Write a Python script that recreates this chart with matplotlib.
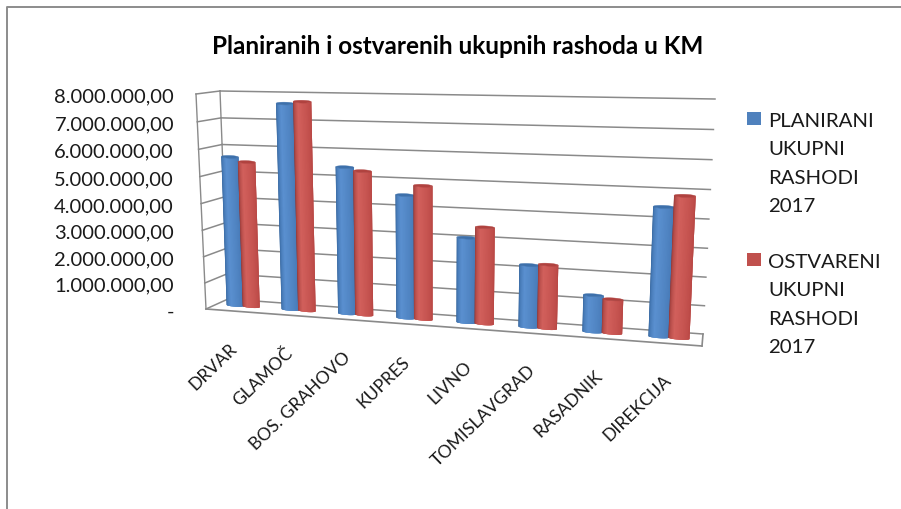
import matplotlib
matplotlib.use('Agg')

import numpy as np
import matplotlib.pyplot as plt
from matplotlib.patches import Polygon, Rectangle
from matplotlib.transforms import Transform

plt.rcParams['font.family'] = ['Lato', 'DejaVu Sans']

title = "Planiranih i ostvarenih ukupnih rashoda u KM"
categories = ["DRVAR", "GLAMOČ", "BOS. GRAHOVO", "KUPRES", "LIVNO",
              "TOMISLAVGRAD", "RASADNIK", "DIREKCIJA"]
planned = [5650000, 7650000, 5420000, 4500000, 3080000, 2230000, 1300000, 4470000]
realized = [5480000, 7730000, 5300000, 4860000, 3480000, 2280000, 1200000, 4870000]
grid_values = [0, 1000000, 2000000, 3000000, 4000000, 5000000, 6000000, 7000000, 8000000]
tick_labels = ["-", "1.000.000,00", "2.000.000,00", "3.000.000,00", "4.000.000,00",
               "5.000.000,00", "6.000.000,00", "7.000.000,00", "8.000.000,00"]
legend_labels = ["PLANIRANI\nUKUPNI\nRASHODI\n2017", "OSTVARENI\nUKUPNI\nRASHODI\n2017"]

VMAX = 8000000
GREY = '#8a8a8a'


class PlaneTransform(Transform):
    # maps (category position, value) onto a tilted plane of the 3d box
    input_dims = 2
    output_dims = 2

    def __init__(self, corners, base):
        super().__init__()
        src = [(0, 0), (len(categories), 0), (len(categories), VMAX), (0, VMAX)]
        rows, rhs = [], []
        for (x, y), (u, v) in zip(src, corners):
            y = y / VMAX
            rows.append([x, y, 1, 0, 0, 0, -u * x, -u * y])
            rows.append([0, 0, 0, x, y, 1, -v * x, -v * y])
            rhs += [u, v]
        h = np.linalg.solve(np.array(rows, float), np.array(rhs, float))
        self.h = np.append(h, 1).reshape(3, 3)
        self.base = base

    def transform_non_affine(self, values):
        pts = np.asarray(values, float)
        p = np.c_[pts[:, 0], pts[:, 1] / VMAX, np.ones(len(pts))] @ self.h.T
        return self.base.transform(p[:, :2] / p[:, 2:])


fig = plt.figure(figsize=(9.01, 5.10), dpi=100)
ax = fig.add_axes([0, 0, 1, 1])
ax.set_xlim(0, 901)
ax.set_ylim(510, 0)
ax.axis('off')

# chart border
ax.plot([7, 7, 901], [510, 8, 8], color='#8c8c8c', lw=1.4)

back = PlaneTransform([(228, 300), (703, 335), (715, 100), (220, 92)], ax.transData)
front = PlaneTransform([(206, 310), (702, 347), (713, 104), (196, 95)], ax.transData)
mid = PlaneTransform([(216, 305), (703, 341), (714, 102), (208, 93.5)], ax.transData)

n = len(categories)
to_px = ax.transData.inverted()

# walls and gridlines
for v in grid_values:
    ax.plot([0, n], [v, v], transform=back, color=GREY, lw=1.1, zorder=1)
    a = to_px.transform(back.transform([[0, v]]))[0]
    b = to_px.transform(front.transform([[0, v]]))[0]
    ax.plot([a[0], b[0]], [a[1], b[1]], color=GREY, lw=1.1, zorder=1)
ax.plot([0, 0], [0, VMAX], transform=back, color=GREY, lw=1.0, zorder=1)
ax.plot([0, 0], [0, VMAX], transform=front, color=GREY, lw=1.0, zorder=1)
ax.plot([0, n], [0, 0], transform=front, color=GREY, lw=1.2, zorder=1)
p1 = to_px.transform(back.transform([[n, 0]]))[0]
p2 = to_px.transform(front.transform([[n, 0]]))[0]
ax.plot([p1[0], p2[0]], [p1[1], p2[1]], color=GREY, lw=1.2, zorder=1)


def shade(dark, light, side, t):
    # dark edge on the left, highlight a third of the way across
    dark, light, side = [np.array(matplotlib.colors.to_rgb(c)) for c in (dark, light, side)]
    if t < 0.35:
        return dark + (light - dark) * (t / 0.35) ** 0.7
    return light + (side - light) * ((t - 0.35) / 0.65)


def cylinder(center, value, half, cols, z):
    rim = 50000
    angles = np.linspace(np.pi, 0, 25)
    xs = center + half * np.cos(angles)
    ds = rim * np.sin(angles)
    # each strip overlaps the next ones a little, so no seams show between them
    for i in range(len(angles) - 1):
        col = shade(cols[0], cols[1], cols[2], i / (len(angles) - 2))
        seg_x, seg_d = xs[i:i + 4], ds[i:i + 4]
        pts = list(zip(seg_x, -seg_d)) + list(zip(seg_x[::-1], value - seg_d[::-1]))
        ax.add_patch(Polygon(pts, closed=True, facecolor=col, edgecolor='none',
                             transform=mid, zorder=z + i * 0.001))
    t = np.linspace(0, 2 * np.pi, 50)
    ax.add_patch(Polygon(np.c_[center + half * np.cos(t), value + rim * np.sin(t)],
                         closed=True, facecolor=cols[3], edgecolor=cols[3], lw=0.3,
                         transform=mid, zorder=z + 0.1))


BLUE = ('#2f5f96', '#5a90d0', '#4476b2', '#3d70ab')
RED = ('#8a302d', '#d2605c', '#b84643', '#b0423f')
half = 0.155
offset = 0.148
for i in range(n):
    c = i + 0.5
    cylinder(c - offset, planned[i], half, BLUE, 3 + i)
    cylinder(c + offset, realized[i], half, RED, 3.5 + i)

# category labels
for i, name in enumerate(categories):
    ax.annotate(name, xy=(i + 0.5, 0), xycoords=mid,
                xytext=(-14 + 8 * (i / 7) ** 2, -34), textcoords='offset pixels',
                rotation=44, rotation_mode='anchor', ha='right', va='top',
                fontsize=12.6, color='#1a1a1a')

# value labels
for v, lab in zip(grid_values, tick_labels):
    y = to_px.transform(front.transform([[0, v]]))[0][1]
    ax.text(174, y + 2, lab, ha='right', va='center', fontsize=14.5, color='#1a1a1a')

ax.text(458, 47, title, ha='center', va='center', fontsize=17.5, fontweight='bold', color='black')

# legend
for y, col, lab in zip([113, 254], ['#4f81bd', '#c0504d'], legend_labels):
    ax.add_patch(Rectangle((747, y), 14, 13, facecolor=col, edgecolor='none'))
    ax.text(768, y, lab, ha='left', va='top', fontsize=14.7, color='#1a1a1a', linespacing=1.82)

fig.savefig('out.png', dpi=100)
